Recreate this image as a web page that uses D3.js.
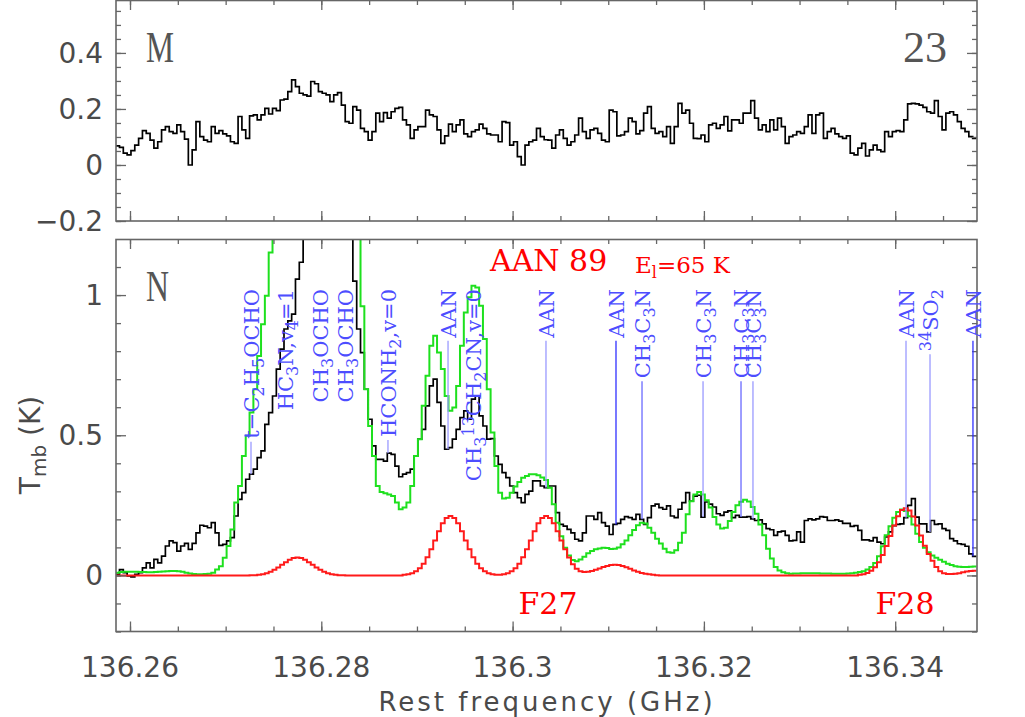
<!DOCTYPE html>
<html><head><meta charset="utf-8">
<script src="https://cdn.jsdelivr.net/npm/d3@7"></script>
<style>body{margin:0;background:#fff}</style>
</head><body><svg id="c" width="1025" height="717"></svg>
<script>
// ---------------- DATA ----------------
const freqStart = 136.2585;   // GHz, lower edge of first channel
const chanWidth = 0.0004;     // GHz

// Panel M (top) observed spectrum, K
const topObs = [
0.068,0.063,0.042,0.036,0.051,0.071,0.095,0.123,0.113,0.089,
0.060,0.083,0.125,0.137,0.119,0.113,0.143,0.119,0.092,0.000,
0.054,0.155,0.101,0.089,0.083,0.137,0.113,0.123,0.111,0.104,
0.083,0.077,0.173,0.125,0.095,0.175,0.179,0.161,0.179,0.202,
0.182,0.202,0.194,0.232,0.235,0.262,0.304,0.280,0.256,0.250,
0.246,0.298,0.290,0.262,0.256,0.250,0.226,0.250,0.258,0.214,
0.155,0.149,0.208,0.196,0.131,0.119,0.089,0.119,0.185,0.155,
0.187,0.167,0.190,0.202,0.206,0.161,0.143,0.095,0.125,0.137,
0.137,0.196,0.179,0.173,0.125,0.077,0.104,0.146,0.119,0.143,
0.161,0.111,0.101,0.119,0.125,0.146,0.131,0.111,0.107,0.107,
0.083,0.155,0.151,0.071,0.083,0.030,0.000,0.071,0.083,0.089,
0.131,0.101,0.090,0.089,0.060,0.107,0.125,0.095,0.071,0.083,
0.107,0.167,0.119,0.095,0.125,0.131,0.113,0.089,0.083,0.196,
0.190,0.104,0.107,0.119,0.167,0.155,0.111,0.123,0.185,0.208,
0.131,0.113,0.119,0.101,0.137,0.077,0.137,0.220,0.185,0.196,
0.149,0.095,0.094,0.107,0.083,0.143,0.149,0.131,0.143,0.173,
0.122,0.161,0.161,0.149,0.185,0.185,0.230,0.167,0.125,0.143,
0.119,0.161,0.125,0.167,0.137,0.077,0.101,0.107,0.119,0.113,
0.137,0.179,0.113,0.179,0.185,0.095,0.119,0.131,0.111,0.101,
0.095,0.104,0.042,0.036,0.060,0.077,0.032,0.054,0.071,0.054,
0.048,0.119,0.101,0.119,0.123,0.119,0.161,0.218,0.220,0.218,
0.214,0.206,0.190,0.185,0.230,0.173,0.125,0.185,0.190,0.179,
0.155,0.131,0.119,0.101,0.095];

// Panel N (bottom) observed spectrum, K
const obs = [
0.004,0.021,0.010,-0.002,-0.005,0.004,0.010,0.027,0.045,0.027,
0.057,0.045,0.069,0.105,0.123,0.117,0.087,0.105,0.114,0.093,
0.114,0.152,0.179,0.176,0.170,0.188,0.152,0.107,0.111,0.123,
0.135,0.212,0.271,0.295,0.343,0.361,0.379,0.420,0.444,0.539,
0.581,0.640,0.736,0.807,0.879,0.908,0.932,1.057,1.117,1.350,
1.600,1.900,2.200,2.400,2.500,2.500,2.400,2.200,2.000,1.800,
1.600,1.400,1.050,0.879,0.795,0.664,0.557,0.462,0.414,0.414,
0.408,0.436,0.432,0.390,0.352,0.361,0.367,0.379,0.426,0.486,
0.521,0.605,0.676,0.700,0.617,0.533,0.450,0.456,0.486,0.521,
0.563,0.587,0.557,0.629,0.640,0.569,0.533,0.486,0.488,0.426,
0.396,0.367,0.349,0.319,0.295,0.277,0.260,0.289,0.301,0.337,
0.337,0.319,0.313,0.319,0.319,0.224,0.182,0.176,0.164,0.152,
0.129,0.123,0.152,0.212,0.212,0.200,0.224,0.188,0.176,0.146,
0.182,0.186,0.200,0.210,0.206,0.200,0.218,0.200,0.182,0.206,
0.248,0.254,0.242,0.236,0.248,0.212,0.206,0.236,0.260,0.295,
0.265,0.283,0.286,0.208,0.262,0.254,0.244,0.220,0.214,0.226,
0.230,0.206,0.214,0.208,0.208,0.210,0.202,0.196,0.198,0.184,
0.167,0.163,0.143,0.155,0.158,0.143,0.123,0.125,0.155,0.119,
0.196,0.202,0.198,0.202,0.210,0.208,0.196,0.196,0.198,0.194,
0.186,0.186,0.175,0.178,0.161,0.127,0.127,0.123,0.135,0.119,
0.113,0.137,0.155,0.178,0.182,0.184,0.206,0.250,0.274,0.208,
0.184,0.184,0.155,0.196,0.182,0.184,0.167,0.161,0.131,0.123,
0.113,0.111,0.104,0.077,0.068];

// Full model (all species), K  (green)
const modelAll = [
0.010,0.012,0.013,0.013,0.013,0.013,0.012,0.012,0.011,0.011,
0.012,0.013,0.014,0.015,0.016,0.016,0.015,0.013,0.010,0.007,
0.005,0.004,0.004,0.005,0.006,0.010,0.021,0.033,0.063,0.105,
0.164,0.260,0.319,0.426,0.498,0.581,0.664,0.783,0.896,0.998,
1.152,1.350,1.600,1.900,2.200,2.500,2.700,2.900,3.000,3.000,
2.900,2.800,2.600,2.400,2.200,2.000,1.900,1.800,1.700,1.600,
1.500,1.400,1.300,1.250,0.960,0.664,0.533,0.426,0.319,0.298,
0.293,0.289,0.283,0.260,0.236,0.242,0.260,0.319,0.426,0.486,
0.605,0.712,0.819,0.855,0.795,0.736,0.640,0.587,0.599,0.676,
0.819,0.938,0.992,1.033,1.027,0.962,0.843,0.664,0.510,0.390,
0.295,0.274,0.277,0.295,0.317,0.333,0.348,0.355,0.361,0.361,
0.357,0.349,0.340,0.313,0.254,0.188,0.140,0.099,0.071,0.055,
0.051,0.057,0.067,0.079,0.087,0.093,0.096,0.099,0.098,0.094,
0.095,0.100,0.111,0.125,0.143,0.162,0.179,0.188,0.185,0.170,
0.152,0.131,0.114,0.095,0.083,0.081,0.090,0.117,0.152,0.218,
0.265,0.289,0.298,0.289,0.268,0.242,0.208,0.182,0.167,0.170,
0.194,0.226,0.250,0.263,0.270,0.264,0.244,0.220,0.182,0.143,
0.095,0.060,0.030,0.018,0.011,0.008,0.006,0.007,0.007,0.008,
0.008,0.008,0.008,0.008,0.007,0.007,0.007,0.006,0.006,0.006,
0.006,0.007,0.008,0.010,0.012,0.015,0.021,0.030,0.044,0.068,
0.104,0.143,0.175,0.206,0.226,0.235,0.230,0.211,0.182,0.149,
0.119,0.099,0.083,0.071,0.063,0.056,0.049,0.042,0.037,0.033,
0.031,0.030,0.030,0.031,0.032];

// AAN model only, K  (red)
const modelAAN = [
0,0,0,0,0,0,0,0,0,0,
0,0,0,0,0,0,0,0,0,0,
0,0,0,0,0,0,0,0,0,0,
0,0,0,0,0,0.001,0.001,0.002,0.004,0.008,
0.013,0.020,0.028,0.038,0.047,0.056,0.062,0.064,0.062,0.056,
0.047,0.038,0.028,0.020,0.013,0.008,0.004,0.002,0.001,0.001,
0,0,0,0,0,0,0,0,0,0,
0,0,0,0,0,0.002,0.004,0.008,0.015,0.026,
0.042,0.065,0.093,0.125,0.158,0.186,0.205,0.212,0.205,0.186,
0.158,0.125,0.093,0.065,0.042,0.026,0.015,0.008,0.004,0.002,
0.002,0.004,0.008,0.015,0.026,0.042,0.065,0.093,0.125,0.158,
0.186,0.205,0.212,0.205,0.186,0.158,0.125,0.093,0.064,0.040,
0.024,0.015,0.012,0.013,0.016,0.020,0.025,0.030,0.034,0.037,
0.038,0.037,0.034,0.029,0.024,0.018,0.013,0.009,0.006,0.004,
0.002,0.001,0,0,0,0,0,0,0,0,
0,0,0,0,0,0,0,0,0,0,
0,0,0,0,0,0,0,0,0,0,
0,0,0,0,0,0,0,0,0,0,
0,0,0,0,0,0,0,0,0,0,
0,0,0,0,0.002,0.004,0.009,0.017,0.029,0.047,
0.073,0.105,0.141,0.178,0.211,0.233,0.240,0.232,0.210,0.178,
0.142,0.106,0.076,0.052,0.030,0.015,0.008,0.005,0.005,0.006,
0.008,0.011,0.014,0.016,0.017];

const xTickValues = [136.26, 136.28, 136.30, 136.32, 136.34];
const xTickLabels = ["136.26", "136.28", "136.3", "136.32", "136.34"];
const topYTickValues = [0, 0.2, 0.4];
const topYTickLabels = ["0", "0.2", "0.4"];
const topYMinLabel = "\u22120.2";
const botYTickValues = [0, 0.5, 1];
const botYTickLabels = ["0", "0.5", "1"];

// Line identifications: frequency (GHz), label parts [text, kind], line colour key
const lineFreqs = [136.27265, 136.27621, 136.27986, 136.28248, 136.28697, 136.29325,
  136.29586, 136.30349, 136.31081, 136.31353, 136.31991, 136.32388, 136.32513,
  136.34113, 136.34364, 136.34813];
const lineLabels = [
  [["t\u2212C","n"],["2","sub"],["H","n"],["5","sub"],["OCHO","n"]],
  [["HC","n"],["3","sub"],["N,v","n"],["4","sub"],["=1","n"]],
  [["CH","n"],["3","sub"],["OCHO","n"]],
  [["CH","n"],["3","sub"],["OCHO","n"]],
  [["HCONH","n"],["2","sub"],[",v=0","n"]],
  [["AAN","n"]],
  [["CH","n"],["3","sub"],["13","sup"],["CH","n"],["2","sub"],["CN,v=0","n"]],
  [["AAN","n"]],
  [["AAN","n"]],
  [["CH","n"],["3","sub"],["C","n"],["3","sub"],["N","n"]],
  [["CH","n"],["3","sub"],["C","n"],["3","sub"],["N","n"]],
  [["CH","n"],["3","sub"],["C","n"],["3","sub"],["N","n"]],
  [["CH","n"],["3","sub"],["C","n"],["3","sub"],["N","n"]],
  [["AAN","n"]],
  [["34","sup"],["SO","n"],["2","sub"]],
  [["AAN","n"]]
];
const lineShade = ["l","l","l","l","l","l","l","l","d","m","l","m","l","l","l","d"];

// ---------------- DRAWING ----------------
const svg = d3.select("#c");
const L = 116, R = 977;
const topP = {t: 0, b: 221};
const botP = {t: 239, b: 631.5};

const x = d3.scaleLinear().domain([136.26, 136.34]).range([130, 895.2]);
const yT = d3.scaleLinear().domain([-0.2, 0.589]).range([topP.b, topP.t]);
const yB = d3.scaleLinear().domain([-0.2, 1.2]).range([botP.b, botP.t]);

const defs = svg.append("defs");
defs.append("clipPath").attr("id","clipT").append("rect")
  .attr("x", L).attr("y", topP.t).attr("width", R-L).attr("height", topP.b-topP.t);
defs.append("clipPath").attr("id","clipB").append("rect")
  .attr("x", L).attr("y", botP.t).attr("width", R-L).attr("height", botP.b-botP.t);

function stepPts(vals){
  const pts = vals.map((v,i)=>[freqStart + i*chanWidth, v]);
  pts.push([freqStart + vals.length*chanWidth, vals[vals.length-1]]);
  return pts;
}
function drawSpec(g, vals, ys, color, w){
  const line = d3.line().x(d=>x(d[0])).y(d=>ys(d[1])).curve(d3.curveStepAfter);
  g.append("path").attr("d", line(stepPts(vals)))
    .attr("fill","none").attr("stroke", color).attr("stroke-width", w)
    .attr("stroke-linejoin","miter");
}

const axisColor = "#666";
function frame(yScale, P, yMajor, yMinorStep){
  const g = svg.append("g");
  const xMinor = d3.range(136.26, 136.3501, 0.005).map(v=>+v.toFixed(3));
  const xMinorAll = [136.26 - 0.005].concat(xMinor).filter(v=>x(v)>=L && x(v)<=R);
  g.append("g").attr("transform",`translate(0,${P.b})`)
    .call(d3.axisTop(x).tickValues(xMinorAll).tickSize(5).tickFormat(""));
  g.append("g").attr("transform",`translate(0,${P.b})`)
    .call(d3.axisTop(x).tickValues(xTickValues).tickSize(10).tickFormat(""));
  g.append("g").attr("transform",`translate(0,${P.t})`)
    .call(d3.axisBottom(x).tickValues(xMinorAll).tickSize(5).tickFormat(""));
  g.append("g").attr("transform",`translate(0,${P.t})`)
    .call(d3.axisBottom(x).tickValues(xTickValues).tickSize(10).tickFormat(""));
  const [y0,y1] = yScale.domain();
  const yMinor = d3.range(Math.ceil(y0/yMinorStep), Math.floor(y1/yMinorStep)+1).map(k=>+(k*yMinorStep).toFixed(3));
  g.append("g").attr("transform",`translate(${L},0)`)
    .call(d3.axisRight(yScale).tickValues(yMinor).tickSize(5).tickFormat(""));
  g.append("g").attr("transform",`translate(${L},0)`)
    .call(d3.axisRight(yScale).tickValues(yMajor).tickSize(10).tickFormat(""));
  g.append("g").attr("transform",`translate(${R},0)`)
    .call(d3.axisLeft(yScale).tickValues(yMinor).tickSize(5).tickFormat(""));
  g.append("g").attr("transform",`translate(${R},0)`)
    .call(d3.axisLeft(yScale).tickValues(yMajor).tickSize(10).tickFormat(""));
  g.selectAll(".domain").remove();
  g.selectAll("line").attr("stroke", axisColor).attr("stroke-width", 1.3);
  g.append("rect").attr("x", L).attr("y", P.t+0.5).attr("width", R-L).attr("height", P.b-P.t-0.5)
    .attr("fill","none").attr("stroke", axisColor).attr("stroke-width", 1.6);
}

// ---- top panel
const gT = svg.append("g").attr("clip-path","url(#clipT)");
drawSpec(gT, topObs, yT, "#000", 1.7);
frame(yT, topP, [-0.2,0,0.2,0.4], 0.05);

// ---- bottom panel
const gB = svg.append("g").attr("clip-path","url(#clipB)");
drawSpec(gB, obs, yB, "#000", 1.7);
drawSpec(gB, modelAll, yB, "#1ee01e", 2);
drawSpec(gB, modelAAN, yB, "#ff1a1a", 2);
frame(yB, botP, [0,0.5,1], 0.1);

// ---- tick labels
const tickFont = "'DejaVu Sans', sans-serif";
const tl = svg.append("g").attr("font-family", tickFont).attr("font-size", 28).attr("fill","#4a4a4a");
xTickValues.forEach((v,i)=>{
  tl.append("text").attr("x", x(v)).attr("y", 677).attr("text-anchor","middle").text(xTickLabels[i]);
});
topYTickValues.forEach((v,i)=>{
  tl.append("text").attr("x", 103).attr("y", yT(v)+10).attr("text-anchor","end").text(topYTickLabels[i]);
});
tl.append("text").attr("x", 103).attr("y", yT(-0.2)+10).attr("text-anchor","end").text(topYMinLabel);
botYTickValues.forEach((v,i)=>{
  tl.append("text").attr("x", 103).attr("y", yB(v)+10).attr("text-anchor","end").text(botYTickLabels[i]);
});

// axis titles
tl.append("text").attr("x", 547).attr("y", 711).attr("text-anchor","middle")
  .attr("font-size", 26).attr("letter-spacing", 3).text("Rest frequency (GHz)");
const yt = tl.append("text").attr("transform","translate(40,445) rotate(-90)").attr("text-anchor","middle");
yt.append("tspan").text("T");
yt.append("tspan").attr("font-size", 20).attr("baseline-shift","-30%").text("mb");
yt.append("tspan").text(" (K)");

// panel letters
const serif = "'Liberation Serif', serif";
svg.append("text").attr("x",146).attr("y",62).attr("font-family",serif).attr("font-size",44)
  .attr("fill","#555").attr("textLength",28).attr("lengthAdjust","spacingAndGlyphs").text("M");
svg.append("text").attr("x",947).attr("y",62).attr("font-family",serif).attr("font-size",44)
  .attr("fill","#555").attr("text-anchor","end").text("23");
svg.append("text").attr("x",146).attr("y",301).attr("font-family",serif).attr("font-size",44)
  .attr("fill","#555").attr("textLength",23).attr("lengthAdjust","spacingAndGlyphs").text("N");

// red annotations
const rserif = "'DejaVu Serif', serif";
svg.append("text").attr("x",490).attr("y",271).attr("font-family",rserif).attr("font-size",30)
  .attr("fill","#ff0000").text("AAN 89");
const el = svg.append("text").attr("x",635).attr("y",273).attr("font-family",rserif).attr("font-size",23).attr("fill","#ff0000");
el.append("tspan").text("E");
el.append("tspan").attr("font-size",16).attr("baseline-shift","-30%").text("l");
el.append("tspan").text("=65 K");
svg.append("text").attr("x",548).attr("y",614).attr("font-family",rserif).attr("font-size",30)
  .attr("fill","#ff0000").attr("text-anchor","middle").text("F27");
svg.append("text").attr("x",905).attr("y",614).attr("font-family",rserif).attr("font-size",30)
  .attr("fill","#ff0000").attr("text-anchor","middle").text("F28");

// line identifications
const labTop = 289;
const shadeCol = {l:"#9a9aff", m:"#6a6aff", d:"#3030ff"};
const gl = svg.append("g");
lineFreqs.forEach((f,i)=>{
  const px = x(f);
  const t = gl.append("text")
    .attr("transform",`translate(${px},${labTop}) rotate(-90)`)
    .attr("text-anchor","end").attr("dy","0.36em")
    .attr("font-family", rserif).attr("font-size", 21).attr("fill","#4d4dff");
  lineLabels[i].forEach(([s,k])=>{
    const ts = t.append("tspan").text(s);
    if(k==="sub") ts.attr("font-size",16).attr("baseline-shift","-32%");
    if(k==="sup") ts.attr("font-size",16).attr("baseline-shift","45%");
  });
  const len = t.node().getComputedTextLength();
  const y0 = labTop + len + 3;
  const ch = Math.floor((f - freqStart)/chanWidth);
  const y1 = yB(obs[ch]);
  if (y1 > y0) {
    gl.append("line").attr("x1",px).attr("x2",px).attr("y1",y0).attr("y2",y1)
      .attr("stroke", shadeCol[lineShade[i]]).attr("stroke-width",1.3);
  }
});
</script></body></html>
